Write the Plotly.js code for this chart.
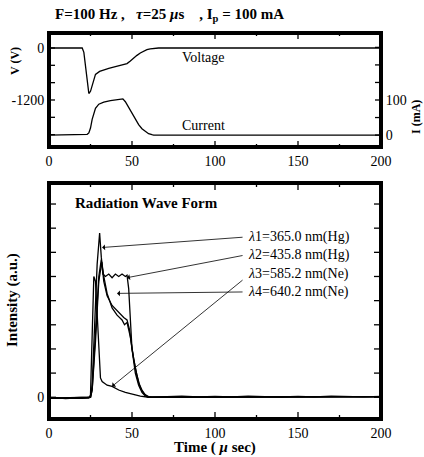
<!DOCTYPE html>
<html><head><meta charset="utf-8">
<script src="https://cdn.plot.ly/plotly-3.0.1.min.js"></script>
<style>html,body{margin:0;padding:0;background:#fff}#p{width:424px;height:457px}</style>
</head><body><div id="p"></div>
<script>
// Top panel: voltage (V) and current (mA) vs time (µs)
const tVolt = [0,20,21,22,23,24,25,26,27,28,30.5,33,36,40,44.5,47,49,51,53,55,57,59,61,63,66,200];
const voltage = [0,0,-100,-450,-850,-1050,-1000,-850,-700,-610,-540,-500,-470,-430,-395,-360,-300,-230,-170,-115,-70,-40,-18,-5,0,0];
const tCurr = [0,22,23,24,25,26,27,28,30,33,37,41,44.5,46,48,50,52,54,56,58,60,62,63,200];
const current = [0,0,2,6,20,45,65,76,88,94,98,100,103,95,78,60,44,30,18,10,4,1,0,0];

// Bottom panel: radiation wave forms (a.u.)
const t1 = [0,5,10,15,20,25,26,27.5,29,30.5,31.5,33,35,38,42,45,47,48.5,50,52,54,56,58,60,62,70,80,90,100,110,120,130,140,150,160,170,180,190,200];
const l1 = [-0.05,-0.02,-0.06,-0.03,-0.04,0,0.5,3,5.5,6.8,5.8,4.8,4.2,3.8,3.5,3.3,3.2,2.8,2.0,1.2,0.6,0.3,0.1,0.03,0,0.02,0.05,0.01,0.04,0.02,0.05,0.03,0.01,0.04,0.02,0.05,0.03,0.02,0.04];
const t2 = [0,25,26,28,30,31.5,32.5,34,36,38,40,42,44,46,47,48,49,50,52,54,56,58,60,200];
const l2 = [-0.04,0,0.3,2.5,5.0,5.7,5.1,5.0,5.1,4.95,5.1,5.0,5.1,5.0,5.05,4.5,3.0,2.0,1.0,0.5,0.2,0.05,0,0.03];
const t3 = [0,24,25,26,27,28,29.5,30.5,31,32,35,38,42,46,50,55,60,200];
const l3 = [-0.05,-0.03,0.1,2.5,5.0,4.8,3.0,1.5,0.8,0.65,0.5,0.45,0.3,0.2,0.12,0.05,0,0.02];
const t4 = [0,25,26,28,30,31.8,33,35,38,41,44,45.5,47,49,51,53,55,57,60,200];
const l4 = [-0.05,0,0.3,2.3,4.8,5.6,5.0,4.3,3.7,3.4,3.2,3.0,3.1,2.5,1.6,0.9,0.4,0.15,0,0.03];

const lineLabels = ['<i>λ</i>1=365.0 nm(Hg)','<i>λ</i>2=435.8 nm(Hg)','<i>λ</i>3=585.2 nm(Ne)','<i>λ</i>4=640.2 nm(Ne)'];
const labelY = [6.63,5.88,5.1,4.36];
const arrowTailY = [6.63,5.88,4.9,4.36];
const arrowHeadX = [32,47,38,41];
const arrowHeadY = [6.2,4.95,0.45,4.3];

const xMajor = [0,50,100,150,200];
const xMinor = [25,75,125,175];
const vTicks = [0,-400,-800,-1200,-1600,-2000];
const vText = ['0','','','-1200','',''];
const iTicks = [0,50,100,150,200,250];
const iText = ['0','','100','','',''];
const intTicks = [0,1,2,3,4,5,6,7,8];
const intText = ['0','','','','','','','',''];

const xRange = [0,200], vRange = [-2285,346], iRange = [-34,291], intRange = [-0.9,8.87];
const W = 332, HT = 114, HB = 236;

const ln = {color:'black', width:1.3};
const traces = [
  {x:tVolt, y:voltage, xaxis:'x', yaxis:'y', mode:'lines', line:ln},
  {x:tCurr, y:current, xaxis:'x', yaxis:'y2', mode:'lines', line:ln},
  {x:t1, y:l1, xaxis:'x2', yaxis:'y3', mode:'lines', line:ln},
  {x:t2, y:l2, xaxis:'x2', yaxis:'y3', mode:'lines', line:ln},
  {x:t3, y:l3, xaxis:'x2', yaxis:'y3', mode:'lines', line:ln},
  {x:t4, y:l4, xaxis:'x2', yaxis:'y3', mode:'lines', line:ln}
];

// inside tick marks and frames drawn as line traces on each subplot's own scales
function tickTrace(xa, ya, xr, yr, H, majorX, minorX, leftY, rightY, lenMaj, lenMin){
  const xs = [], ys = [];
  const dy = (yr[1]-yr[0])/H, dx = (xr[1]-xr[0])/W;
  majorX.forEach(v=>{ xs.push(v,v,null,v,v,null); ys.push(yr[0], yr[0]+lenMaj*dy, null, yr[1], yr[1]-lenMaj*dy, null); });
  minorX.forEach(v=>{ xs.push(v,v,null,v,v,null); ys.push(yr[0], yr[0]+lenMin*dy, null, yr[1], yr[1]-lenMin*dy, null); });
  leftY.forEach(v=>{ xs.push(xr[0], xr[0]+lenMaj*dx, null); ys.push(v,v,null); });
  rightY.forEach(v=>{ xs.push(xr[1], xr[1]-lenMaj*dx, null); ys.push(v,v,null); });
  return {x:xs, y:ys, xaxis:xa, yaxis:ya, mode:'lines', line:{color:'black', width:1.3}, hoverinfo:'skip', connectgaps:false};
}
function frameTrace(xa, ya, xr, yr){
  return {x:[xr[0],xr[1],xr[1],xr[0],xr[0]], y:[yr[0],yr[0],yr[1],yr[1],yr[0]], xaxis:xa, yaxis:ya, mode:'lines', line:{color:'black', width:4}, hoverinfo:'skip'};
}
traces.push(tickTrace('x','y',xRange,vRange,HT,xMajor,xMinor,vTicks,[],6,3));
traces.push(tickTrace('x','y2',xRange,iRange,HT,[],[],[],iTicks,6,3));
traces.push(tickTrace('x2','y3',xRange,intRange,HB,xMajor,xMinor,intTicks,intTicks,7,4));
traces.push(frameTrace('x','y',xRange,vRange));
traces.push(frameTrace('x2','y3',xRange,intRange));

const serif = 'Liberation Serif, Times New Roman, serif';
const tickFont = {family:serif, size:14, color:'black'};
const xDom = [49/424, 381/424];
const topDom = [1-147/457, 1-33/457];
const botDom = [1-419/457, 1-183/457];
const axBase = {showline:true, linecolor:'black', linewidth:2, ticks:'', showgrid:false, zeroline:false, tickfont:tickFont, tickmode:'array'};

const layout = {
  width:424, height:457, margin:{l:0,r:0,t:0,b:0}, showlegend:false,
  paper_bgcolor:'white',
  xaxis: Object.assign({}, axBase, {domain:xDom, anchor:'y', range:xRange, tickvals:xMajor, mirror:true}),
  yaxis: Object.assign({}, axBase, {domain:topDom, anchor:'x', range:vRange, tickvals:vTicks, ticktext:vText}),
  yaxis2: Object.assign({}, axBase, {overlaying:'y', side:'right', anchor:'x', range:iRange, tickvals:iTicks, ticktext:iText}),
  xaxis2: Object.assign({}, axBase, {domain:xDom, anchor:'y3', range:xRange, tickvals:xMajor, mirror:true}),
  yaxis3: Object.assign({}, axBase, {domain:botDom, anchor:'x2', range:intRange, tickvals:intTicks, ticktext:intText, mirror:true}),
  annotations: []
};

const A = layout.annotations;
function txt(x, y, text, size, extra){ A.push(Object.assign({xref:'paper', yref:'paper', x:x/424, y:1-y/457, xanchor:'center', yanchor:'middle', text:text, showarrow:false, font:{family:serif, size:size, color:'black'}}, extra||{})); }
txt(53, 15, '<b>F=100 Hz ,&nbsp;&nbsp; <i>τ</i>=25 <i>μ</i>s&nbsp;&nbsp;&nbsp; , I<sub>p</sub> = 100 mA</b>', 15, {xanchor:'left'});
txt(15, 61, '<b>V (V)</b>', 12, {textangle:-90});
txt(416, 117, '<b>I (mA)</b>', 12, {textangle:-90});
txt(12, 300, '<b>Intensity (a.u.)</b>', 15, {textangle:-90});
txt(215, 447, '<b>Time ( <i>μ</i> sec)</b>', 15);
txt(73, 203, '<b>Radiation Wave Form</b>', 15, {xanchor:'left'});
A.push({xref:'x', yref:'y', x:93, y:-230, xanchor:'center', yanchor:'middle', text:'Voltage', showarrow:false, font:tickFont});
A.push({xref:'x', yref:'y2', x:93, y:28, xanchor:'center', yanchor:'middle', text:'Current', showarrow:false, font:tickFont});
for (let i=0;i<4;i++){
  A.push({xref:'x2', yref:'y3', x:118.5, y:labelY[i], xanchor:'left', yanchor:'middle', text:lineLabels[i], showarrow:false, font:{family:serif, size:14, color:'black'}});
  A.push({xref:'x2', yref:'y3', x:arrowHeadX[i], y:arrowHeadY[i], axref:'x2', ayref:'y3', ax:117.5, ay:arrowTailY[i], text:'', showarrow:true, arrowhead:1, arrowsize:1.2, arrowwidth:0.8, arrowcolor:'black', standoff:0});
}

Plotly.newPlot('p', traces, layout, {displayModeBar:false});
</script></body></html>
